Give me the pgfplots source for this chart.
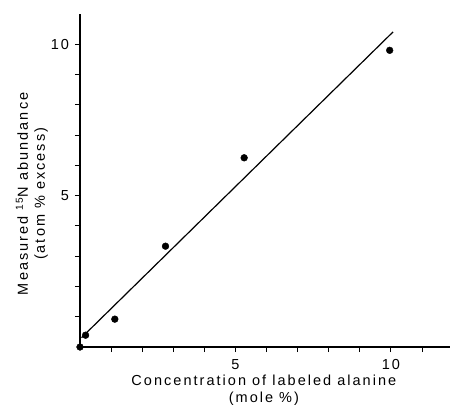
\documentclass[border=0pt]{standalone}
\usepackage{fontspec}
\setmainfont{Liberation Sans}[LetterSpace=14]
\usepackage{pgfplots}
\pgfplotsset{compat=1.18}
\begin{document}
\fontsize{14.5}{17}\selectfont
\begin{tikzpicture}
\useasboundingbox (-80pt,-58pt) rectangle (371pt,347pt);
\begin{axis}[
  at={(0,0)}, anchor=south west,
  scale only axis, width=370pt, height=333pt,
  xmin=0, xmax=11.9, ymin=0, ymax=11,
  axis lines=left, axis line style={-, line width=1.2pt},
  tick align=outside,
  xtick={5,10}, minor xtick={1,2,3,4,6,7,8,9,11},
  ytick={5,10}, minor ytick={1,2,3,4,6,7,8,9},
  major tick length=5pt, minor tick length=5pt,
  every tick/.style={black, line width=1pt},
  /pgf/number format/assume math mode=true,
  tick label style={font=\fontsize{14.5}{16}\selectfont},
  xticklabel style={yshift=-2pt},
  yticklabel style={xshift=-1pt},
  xlabel={Concentration of labeled alanine\\(mole \%)},
  ylabel={Measured \textsuperscript{15}N abundance\\(atom \% excess)},
  xlabel style={align=center, at={(axis description cs:0.497,-0.13)}, anchor=center, font=\fontsize{14.5}{17}\selectfont},
  ylabel style={align=center, at={(axis description cs:-0.13,0.46)}, anchor=center, font=\fontsize{14.5}{17}\selectfont},
  clip=false,
]
\addplot[only marks, mark=*, mark size=3.4pt, black] coordinates {
  (0,0) (0.18,0.39) (1.12,0.92) (2.75,3.33) (5.28,6.25) (9.96,9.80)
};
\addplot[black, line width=1.2pt] coordinates {(0.05,0.31) (10.07,10.41)};
\end{axis}
\end{tikzpicture}
\end{document}
